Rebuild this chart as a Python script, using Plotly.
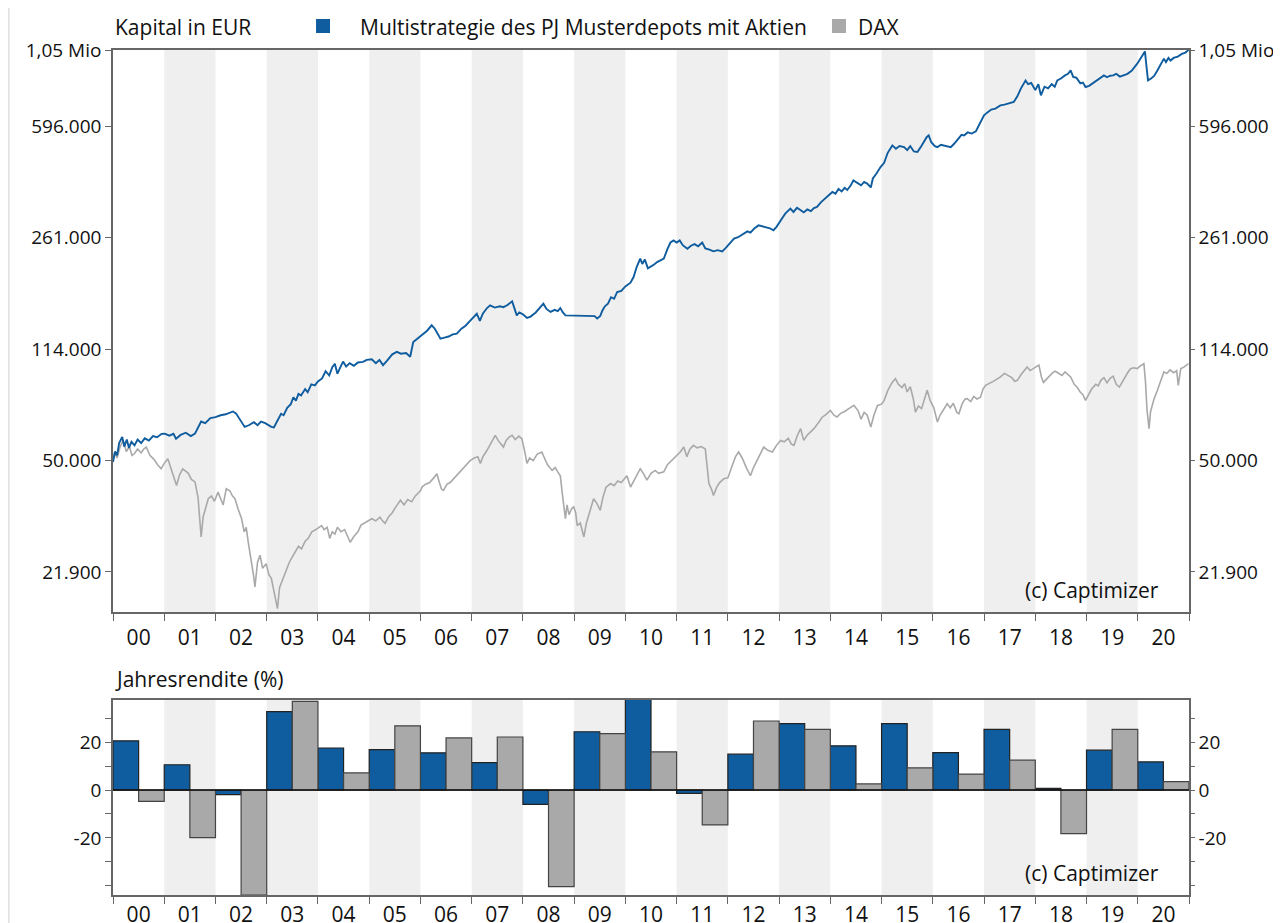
import plotly.graph_objects as go

# ---------------- data ----------------
years = list(range(2000, 2021))
year_labels = [f"{y % 100:02d}" for y in years]

multi_returns = [20.6, 10.6, -1.9, 32.8, 17.6, 16.9, 15.6, 11.5, -6.0, 24.4, 42.0,
                 -1.4, 15.0, 27.8, 18.5, 27.8, 15.7, 25.4, 0.7, 16.7, 11.8]
dax_returns = [-4.7, -19.9, -43.9, 37.1, 7.2, 26.9, 21.8, 22.2, -40.4, 23.6, 16.0,
               -14.6, 28.9, 25.4, 2.6, 9.3, 6.7, 12.5, -18.2, 25.4, 3.5]

multi_t = [2000.00, 2000.04, 2000.08, 2000.12, 2000.18, 2000.22, 2000.27, 2000.31, 2000.36, 2000.42,
           2000.48, 2000.55, 2000.62, 2000.70, 2000.78, 2000.86, 2000.95, 2001.01, 2001.10, 2001.18,
           2001.23, 2001.32, 2001.42, 2001.52, 2001.60, 2001.66, 2001.72, 2001.80, 2001.90, 2002.00,
           2002.10, 2002.20, 2002.34, 2002.40, 2002.48, 2002.57, 2002.65, 2002.75, 2002.82, 2002.89,
           2002.97, 2003.09, 2003.14, 2003.20, 2003.28, 2003.33, 2003.40, 2003.47, 2003.52, 2003.57,
           2003.62, 2003.67, 2003.75, 2003.80, 2003.87, 2003.94, 2004.00, 2004.08, 2004.15, 2004.22,
           2004.28, 2004.33, 2004.38, 2004.45, 2004.49, 2004.55, 2004.62, 2004.70, 2004.78, 2004.88,
           2004.95, 2005.05, 2005.13, 2005.20, 2005.27, 2005.35, 2005.45, 2005.54, 2005.62, 2005.72,
           2005.80, 2005.86, 2005.95, 2006.05, 2006.13, 2006.22, 2006.28, 2006.35, 2006.39, 2006.47,
           2006.55, 2006.63, 2006.71, 2006.80, 2006.88, 2006.95, 2007.03, 2007.10, 2007.16, 2007.22,
           2007.30, 2007.36, 2007.45, 2007.55, 2007.62, 2007.70, 2007.79, 2007.83, 2007.88, 2007.93,
           2008.00, 2008.08, 2008.15, 2008.25, 2008.33, 2008.40, 2008.46, 2008.54, 2008.62, 2008.68,
           2008.73, 2008.78, 2008.83, 2008.95, 2009.10, 2009.25, 2009.40, 2009.45, 2009.51, 2009.55,
           2009.60, 2009.66, 2009.72, 2009.78, 2009.84, 2009.92, 2010.00, 2010.10, 2010.16, 2010.22,
           2010.29, 2010.33, 2010.38, 2010.44, 2010.49, 2010.56, 2010.62, 2010.68, 2010.75, 2010.82,
           2010.88, 2010.94, 2011.00, 2011.06, 2011.12, 2011.21, 2011.28, 2011.35, 2011.42, 2011.50,
           2011.56, 2011.64, 2011.72, 2011.80, 2011.89, 2011.96, 2012.04, 2012.12, 2012.20, 2012.30,
           2012.38, 2012.44, 2012.52, 2012.60, 2012.68, 2012.76, 2012.82, 2012.89, 2012.95, 2013.05,
           2013.12, 2013.22, 2013.28, 2013.35, 2013.42, 2013.48, 2013.55, 2013.62, 2013.68, 2013.74,
           2013.82, 2013.90, 2013.97, 2014.04, 2014.10, 2014.16, 2014.22, 2014.28, 2014.33, 2014.40,
           2014.45, 2014.52, 2014.60, 2014.66, 2014.72, 2014.79, 2014.83, 2014.90, 2014.98, 2015.05,
           2015.12, 2015.21, 2015.28, 2015.35, 2015.44, 2015.50, 2015.56, 2015.63, 2015.70, 2015.76,
           2015.82, 2015.88, 2015.92, 2015.97, 2016.04, 2016.09, 2016.16, 2016.24, 2016.35, 2016.42,
           2016.50, 2016.56, 2016.61, 2016.68, 2016.76, 2016.84, 2016.92, 2017.00, 2017.06, 2017.14,
           2017.22, 2017.32, 2017.40, 2017.48, 2017.58, 2017.65, 2017.72, 2017.81, 2017.86, 2017.92,
           2018.00, 2018.06, 2018.11, 2018.18, 2018.25, 2018.32, 2018.38, 2018.43, 2018.50, 2018.58,
           2018.64, 2018.69, 2018.74, 2018.80, 2018.88, 2018.93, 2018.98, 2019.05, 2019.12, 2019.20,
           2019.27, 2019.34, 2019.40, 2019.46, 2019.52, 2019.58, 2019.65, 2019.73, 2019.80, 2019.88,
           2019.94, 2019.99, 2020.06, 2020.14, 2020.17, 2020.20, 2020.26, 2020.32, 2020.38, 2020.44,
           2020.51, 2020.55, 2020.60, 2020.64, 2020.70, 2020.78, 2020.86, 2020.93, 2020.99]
multi_v = [49500, 53500, 52000, 57000, 59600, 55500, 58500, 55000, 57500, 56000,
           58500, 57000, 59000, 58000, 60000, 59500, 61000, 61100, 60200, 61000,
           58800, 60500, 61500, 60000, 61100, 64000, 66800, 66000, 68500, 69000,
           70000, 70500, 72000, 71000, 67500, 64200, 65000, 66500, 65000, 66800,
           66000, 64200, 64000, 67000, 70800, 70000, 74000, 76000, 80000, 78000,
           82000, 81100, 85000, 83000, 88000, 87400, 90000, 92000, 97000, 94000,
           100000, 102600, 95300, 101000, 104200, 100500, 103000, 101000, 103500, 104000,
           105500, 106000, 103000, 105500, 101500, 105000, 110000, 112000, 110500, 111000,
           108000, 120500, 124000, 128000, 131000, 136400, 133000, 127000, 123500, 124500,
           125500, 127500, 128200, 133000, 136000, 140000, 144000, 148600, 141000, 149000,
           155000, 158100, 155500, 157000, 156000, 158500, 162900, 155000, 146800, 150000,
           148000, 144000, 145500, 150000, 155000, 160100, 154000, 150600, 153000, 151500,
           155000, 150000, 146800, 146500, 146400, 146300, 146000, 143500, 146200, 152000,
           157000, 160000, 168000, 166000, 174600, 176000, 182000, 187100, 195000, 210000,
           223500, 215000, 222000, 208000, 210200, 214000, 218000, 220000, 223500, 240000,
           252000, 256000, 252000, 256000, 247000, 240700, 246000, 249000, 245000, 252000,
           241000, 239000, 236000, 238000, 236000, 242000, 250000, 259300, 262000, 268000,
           273700, 271000, 280000, 286100, 284000, 283000, 280000, 276000, 283000, 300000,
           312000, 323900, 316000, 326000, 320000, 315000, 322000, 318000, 325000, 328000,
           340000, 350000, 358000, 366500, 362000, 375000, 368000, 378000, 372000, 385000,
           399500, 392000, 385000, 395000, 390000, 379000, 405000, 420000, 441000, 455000,
           490000, 517600, 505000, 515000, 511000, 500000, 515000, 495000, 493000, 510000,
           530000, 550000, 557500, 530000, 515000, 511000, 520000, 515000, 511000, 525000,
           545000, 560000, 557500, 570000, 565000, 574500, 610000, 646700, 660000, 675000,
           680000, 696500, 700000, 706000, 714000, 745000, 790000, 838000, 815000, 822000,
           780000, 815000, 750000, 800000, 790000, 815000, 800000, 838000, 850000, 870000,
           880000, 903000, 860000, 855000, 820000, 825000, 798000, 805000, 820000, 840000,
           855000, 870000, 858000, 868000, 870000, 880000, 862000, 870000, 880000, 900000,
           925000, 949000, 990000, 1039000, 930000, 838000, 850000, 866000, 900000, 940000,
           985000, 960000, 990000, 971000, 990000, 1000000, 1020000, 1030000, 1050000]

dax_t = [2000.00, 2000.03, 2000.08, 2000.14, 2000.20, 2000.26, 2000.32, 2000.37, 2000.42, 2000.48,
         2000.55, 2000.60, 2000.65, 2000.72, 2000.80, 2000.87, 2000.94, 2001.00, 2001.07, 2001.14,
         2001.20, 2001.24, 2001.30, 2001.36, 2001.40, 2001.47, 2001.53, 2001.60, 2001.66, 2001.72,
         2001.76, 2001.81, 2001.86, 2001.92, 2001.98, 2002.05, 2002.10, 2002.15, 2002.21, 2002.28,
         2002.33, 2002.38, 2002.44, 2002.51, 2002.56, 2002.60, 2002.64, 2002.70, 2002.74, 2002.77,
         2002.82, 2002.87, 2002.92, 2002.99, 2003.04, 2003.09, 2003.14, 2003.18, 2003.21, 2003.25,
         2003.32, 2003.38, 2003.44, 2003.50, 2003.55, 2003.62, 2003.68, 2003.75, 2003.81, 2003.88,
         2003.96, 2004.02, 2004.07, 2004.12, 2004.18, 2004.23, 2004.28, 2004.33, 2004.38, 2004.45,
         2004.52, 2004.58, 2004.63, 2004.70, 2004.78, 2004.84, 2004.89, 2004.97, 2005.05, 2005.13,
         2005.21, 2005.26, 2005.31, 2005.38, 2005.45, 2005.52, 2005.58, 2005.61, 2005.68, 2005.75,
         2005.83, 2005.90, 2006.00, 2006.03, 2006.10, 2006.18, 2006.26, 2006.32, 2006.37, 2006.41,
         2006.45, 2006.52, 2006.58, 2006.65, 2006.72, 2006.80, 2006.88, 2006.97, 2007.05, 2007.12,
         2007.17, 2007.22, 2007.30, 2007.38, 2007.46, 2007.52, 2007.58, 2007.62, 2007.67, 2007.73,
         2007.79, 2007.85, 2007.92, 2007.98, 2008.03, 2008.08, 2008.13, 2008.20, 2008.28, 2008.37,
         2008.42, 2008.48, 2008.57, 2008.63, 2008.68, 2008.73, 2008.77, 2008.80, 2008.83, 2008.86,
         2008.90, 2008.95, 2008.99, 2009.03, 2009.06, 2009.12, 2009.16, 2009.19, 2009.24, 2009.30,
         2009.38, 2009.44, 2009.51, 2009.56, 2009.62, 2009.71, 2009.78, 2009.85, 2009.92, 2010.03,
         2010.10, 2010.18, 2010.29, 2010.35, 2010.42, 2010.50, 2010.58, 2010.65, 2010.75, 2010.82,
         2010.90, 2011.01, 2011.08, 2011.14, 2011.20, 2011.26, 2011.33, 2011.40, 2011.48, 2011.56,
         2011.60, 2011.63, 2011.68, 2011.72, 2011.78, 2011.84, 2011.92, 2012.00, 2012.08, 2012.15,
         2012.21, 2012.28, 2012.36, 2012.44, 2012.50, 2012.58, 2012.65, 2012.70, 2012.78, 2012.87,
         2012.95, 2013.03, 2013.10, 2013.18, 2013.24, 2013.29, 2013.36, 2013.42, 2013.48, 2013.55,
         2013.62, 2013.68, 2013.76, 2013.84, 2013.92, 2014.00, 2014.07, 2014.13, 2014.20, 2014.28,
         2014.36, 2014.46, 2014.54, 2014.60, 2014.66, 2014.72, 2014.79, 2014.85, 2014.92, 2015.00,
         2015.05, 2015.12, 2015.20, 2015.27, 2015.33, 2015.40, 2015.45, 2015.50, 2015.56, 2015.62,
         2015.66, 2015.72, 2015.78, 2015.84, 2015.89, 2015.95, 2016.02, 2016.09, 2016.14, 2016.20,
         2016.28, 2016.34, 2016.40, 2016.47, 2016.51, 2016.57, 2016.63, 2016.67, 2016.74, 2016.80,
         2016.86, 2016.93, 2016.98, 2017.03, 2017.10, 2017.18, 2017.25, 2017.32, 2017.40, 2017.47,
         2017.54, 2017.60, 2017.65, 2017.72, 2017.78, 2017.84, 2017.90, 2017.96, 2018.03, 2018.07,
         2018.12, 2018.16, 2018.22, 2018.28, 2018.34, 2018.39, 2018.45, 2018.52, 2018.58, 2018.64,
         2018.69, 2018.76, 2018.82, 2018.88, 2018.93, 2018.98, 2019.04, 2019.10, 2019.18, 2019.23,
         2019.28, 2019.34, 2019.40, 2019.46, 2019.52, 2019.58, 2019.64, 2019.70, 2019.76, 2019.82,
         2019.86, 2019.92, 2019.99, 2020.05, 2020.12, 2020.15, 2020.18, 2020.22, 2020.25, 2020.28,
         2020.32, 2020.38, 2020.44, 2020.51, 2020.57, 2020.63, 2020.70, 2020.76, 2020.79, 2020.84,
         2020.90, 2020.95, 2020.99]
dax_v = [50000, 53000, 51000, 55500, 58100, 53500, 55500, 52000, 52700, 54500,
         53000, 54500, 55300, 52000, 50500, 48500, 47100, 49000, 50700, 47000,
         44000, 41600, 45000, 47000, 46500, 45500, 43500, 42700, 38000, 28400,
         33000, 35000, 37700, 38500, 37000, 39600, 38000, 36000, 40600, 40000,
         38500, 37700, 35000, 32500, 29500, 30500, 27300, 24000, 21500, 19600,
         23500, 24800, 22500, 23300, 21500, 20900, 19000, 17500, 16700, 19500,
         20900, 22000, 23500, 24500, 25400, 26500, 26000, 27500, 28100, 29500,
         30000, 30500, 30900, 30000, 30500, 28100, 29500, 29000, 30500, 29500,
         30000, 28500, 27300, 28500, 29500, 31000, 31400, 32000, 32500, 32000,
         32900, 32000, 31400, 33000, 34000, 35500, 36500, 37300, 36000, 37500,
         36900, 38500, 40000, 41100, 42000, 42500, 44000, 45400, 42500, 40500,
         40100, 42000, 42500, 43700, 45000, 46500, 48000, 50000, 51000, 51500,
         49000, 51500, 54000, 57000, 60300, 58000, 56500, 55300, 58000, 59500,
         60300, 58500, 60000, 58800, 54000, 49000, 51000, 50000, 52500, 53300,
         51000, 48500, 46500, 47500, 46000, 44700, 39000, 35000, 32500, 36000,
         33500, 35000, 35500, 34000, 30900, 31500, 29500, 28400, 31500, 34000,
         37700, 36500, 34600, 38000, 41000, 42200, 41500, 43000, 42500, 44700,
         41100, 43500, 47100, 45500, 43300, 45500, 46500, 45500, 46000, 48500,
         50000, 52000, 53500, 55300, 51500, 54500, 56000, 55000, 55500, 54500,
         48000, 42200, 40500, 38600, 41000, 42500, 43700, 44000, 48000, 51500,
         53300, 51000, 47500, 44700, 47500, 50500, 53000, 55300, 54000, 53300,
         56000, 58100, 57500, 59000, 56500, 56000, 60500, 63400, 58100, 60500,
         62000, 63400, 66000, 69000, 70500, 72600, 70000, 69100, 71000, 72000,
         73500, 75300, 72500, 68000, 71500, 70000, 64200, 70000, 75300, 76000,
         78200, 84000, 89000, 91800, 88000, 86000, 88500, 83200, 86500, 79000,
         71700, 75000, 73500, 80000, 84200, 78000, 74000, 66600, 70000, 72500,
         76300, 74000, 76500, 71500, 70800, 76000, 79000, 79200, 77500, 80500,
         79000, 80000, 85000, 87400, 88500, 90000, 91500, 93000, 95500, 94000,
         92500, 90000, 90700, 94500, 97500, 100100, 97500, 99000, 100500, 101500,
         93000, 89300, 91500, 94000, 96000, 97000, 95500, 94000, 96500, 94500,
         93000, 88000, 86000, 83000, 81500, 78200, 82000, 85000, 88000, 87000,
         90700, 92500, 89000, 92000, 93500, 88000, 86300, 90000, 93000, 97000,
         98900, 99500, 98900, 101000, 102600, 90000, 73000, 63400, 72000, 75000,
         79200, 84000, 90000, 96500, 95500, 98000, 96000, 97500, 87400, 98900,
         100000, 101500, 102600]

cap_tickvals = [21900, 50000, 114000, 261000, 596000, 1050000]
cap_ticktext = ["21.900", "50.000", "114.000", "261.000", "596.000", "1,05 Mio"]
ret_tickvals = [-40, -30, -20, -10, 0, 10, 20, 30]
ret_ticktext = ["", "", "-20", "", "0", "", "20", ""]

series_names = ["Multistrategie des PJ Musterdepots mit Aktien", "DAX"]

# ---------------- styles ----------------
BLUE = "#0f5c9e"
GREY = "#a9a9a9"
BAND = "#efefef"
AXC = "#666666"
FONT = "Open Sans"
FS = 20
FS_TEXT = 21
FS_Y = 19

fig = go.Figure()

fig.add_trace(go.Scatter(x=dax_t, y=dax_v, mode="lines", line=dict(color=GREY, width=1.6),
                         xaxis="x", yaxis="y", name=series_names[1], showlegend=False,
                         hoverinfo="skip"))
fig.add_trace(go.Scatter(x=multi_t, y=multi_v, mode="lines", line=dict(color=BLUE, width=1.9),
                         xaxis="x", yaxis="y", name=series_names[0], showlegend=False,
                         hoverinfo="skip"))
fig.add_trace(go.Scatter(x=[multi_t[0]], y=[multi_v[0]], mode="markers", marker=dict(opacity=0),
                         xaxis="x", yaxis="y3", showlegend=False, hoverinfo="skip"))

fig.add_trace(go.Bar(x=[y + 0.25 for y in years], y=multi_returns, width=0.5,
                     marker=dict(color=BLUE, line=dict(color="#222", width=1.2)),
                     xaxis="x2", yaxis="y2", showlegend=False, hoverinfo="skip"))
fig.add_trace(go.Bar(x=[y + 0.75 for y in years], y=dax_returns, width=0.5,
                     marker=dict(color=GREY, line=dict(color="#444", width=1.2)),
                     xaxis="x2", yaxis="y2", showlegend=False, hoverinfo="skip"))
fig.add_trace(go.Scatter(x=[years[0] + 0.5], y=[0], mode="markers", marker=dict(opacity=0),
                         xaxis="x2", yaxis="y4", showlegend=False, hoverinfo="skip"))

shapes = []
for y in years:
    if y % 2 == 1:
        for xr, yr in (("x", "y domain"), ("x2", "y2 domain")):
            shapes.append(dict(type="rect", xref=xr, yref=yr, x0=y, x1=y + 1, y0=0, y1=1,
                               fillcolor=BAND, line=dict(width=0), layer="below"))
shapes.append(dict(type="line", xref="x2 domain", yref="y2", x0=0, x1=1, y0=0, y1=0,
                   line=dict(color="#111", width=1.5), layer="above"))
shapes.append(dict(type="line", xref="paper", yref="paper", x0=-0.0967, x1=-0.0967,
                   y0=-0.05, y1=1.07, line=dict(color="#cccccc", width=1)))

# legend (squares + labels)
legend_pos = [(0.1887, 0.2277), (0.6682, 0.6905)]
annotations = []
for (sx, tx), name, col in zip(legend_pos, series_names, [BLUE, GREY]):
    shapes.append(dict(type="rect", xref="paper", yref="paper", x0=sx, x1=sx + 0.013,
                       y0=1.0201, y1=1.0367, fillcolor=col, line=dict(width=0)))
    annotations.append(dict(text=name, xref="paper", yref="paper", x=tx, y=1.0272,
                            xanchor="left", yanchor="middle", showarrow=False,
                            font=dict(size=FS_TEXT)))

annotations += [
    dict(text="Kapital in EUR", xref="paper", yref="paper", x=0.0, y=1.0272,
         xanchor="left", yanchor="middle", showarrow=False, font=dict(size=FS_TEXT)),
    dict(text="Jahresrendite (%)", xref="paper", yref="paper", x=0.0, y=0.2556,
         xanchor="left", yanchor="middle", showarrow=False, font=dict(size=FS_TEXT)),
    dict(text="(c) Captimizer", xref="paper", yref="paper", x=0.974, y=0.361,
         xanchor="right", yanchor="middle", showarrow=False, font=dict(size=FS_TEXT)),
    dict(text="(c) Captimizer", xref="paper", yref="paper", x=0.974, y=0.026,
         xanchor="right", yanchor="middle", showarrow=False, font=dict(size=FS_TEXT)),
]

top_dom = [0.3349, 1.0]
bot_dom = [0.0, 0.2308]


def xaxis_cfg(standoff):
    return dict(range=[2000, 2021], tickvals=[y + 0.5 for y in years], ticktext=year_labels,
                ticks="", showgrid=False, zeroline=False, showline=True, linecolor=AXC,
                linewidth=1.5, mirror=True, tickfont=dict(size=FS_TEXT, color="#111"),
                ticklabelstandoff=standoff,
                minor=dict(tickvals=years + [2021], ticks="outside", ticklen=7,
                           tickcolor=AXC, tickwidth=1.2, showgrid=False),
                automargin=False, fixedrange=True)


def ytop_cfg(ticklen):
    return dict(type="log", range=[4.2116, 6.0212], tickvals=cap_tickvals, ticktext=cap_ticktext,
                ticks="outside", ticklen=ticklen, tickcolor=AXC, showgrid=False, zeroline=False,
                showline=True, linecolor=AXC, linewidth=1.5,
                tickfont=dict(size=FS_Y, color="#111"), automargin=False)


def ybot_cfg(ticklen):
    return dict(range=[-43.9, 37.7], tickvals=ret_tickvals, ticktext=ret_ticktext,
                ticks="outside", ticklen=ticklen, tickcolor=AXC, showgrid=False, zeroline=False,
                showline=True, linecolor=AXC, linewidth=1.5,
                tickfont=dict(size=FS_Y, color="#111"), automargin=False)


fig.update_layout(
    width=1273, height=915,
    margin=dict(l=105, r=92, t=42, b=28),
    paper_bgcolor="white", plot_bgcolor="white",
    font=dict(family=FONT, size=FS, color="#111"),
    barmode="overlay",
    showlegend=False,
    xaxis=dict(domain=[0, 1], anchor="y", **xaxis_cfg(6)),
    xaxis2=dict(domain=[0, 1], anchor="y2", **xaxis_cfg(0)),
    yaxis=dict(domain=top_dom, anchor="x", side="left", **ytop_cfg(6)),
    yaxis3=dict(domain=top_dom, anchor="x", overlaying="y", side="right", **ytop_cfg(4)),
    yaxis2=dict(domain=bot_dom, anchor="x2", side="left", **ybot_cfg(6)),
    yaxis4=dict(domain=bot_dom, anchor="x2", overlaying="y2", side="right", **ybot_cfg(4)),
    shapes=shapes,
    annotations=annotations,
)

fig.write_html("out.html")
